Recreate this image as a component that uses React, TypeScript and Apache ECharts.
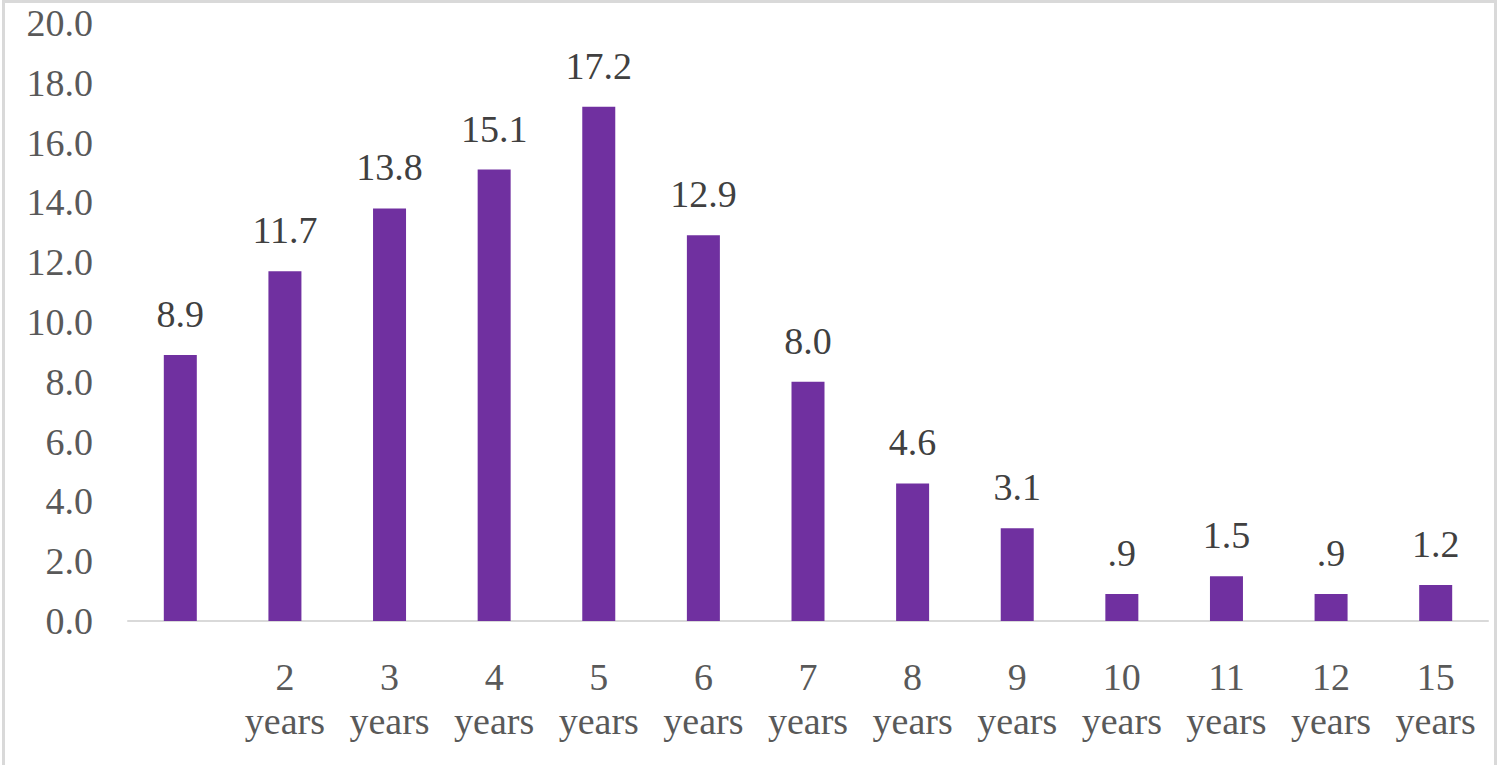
import React, { useEffect, useRef } from "react";
import * as echarts from "echarts";

const categories = ["", "2 years", "3 years", "4 years", "5 years", "6 years", "7 years", "8 years", "9 years", "10 years", "11 years", "12 years", "15 years"];
const values = [8.9, 11.7, 13.8, 15.1, 17.2, 12.9, 8.0, 4.6, 3.1, 0.9, 1.5, 0.9, 1.2];
const yTicks = { min: 0, max: 20, interval: 2 };

const FONT = "'Liberation Serif', 'Times New Roman', serif";

export default function App() {
  const ref = useRef<HTMLDivElement>(null);
  useEffect(() => {
    if (!ref.current) return;
    const chart = echarts.init(ref.current, undefined, { renderer: "svg" });
    chart.setOption({
      animation: false,
      backgroundColor: "#ffffff",
      grid: { left: 128, right: 12, top: 23, bottom: 144, containLabel: false },
      graphic: [
        {
          type: "rect",
          shape: { x: 3.5, y: 1.5, width: 1492, height: 800 },
          style: { fill: "none", stroke: "#d9d9d9", lineWidth: 3 },
          silent: true,
        },
      ],
      xAxis: {
        type: "category",
        data: categories,
        axisLine: { show: true, lineStyle: { color: "#d9d9d9", width: 2 } },
        axisTick: { show: false },
        axisLabel: {
          interval: 0,
          margin: 34,
          color: "#595959",
          fontFamily: FONT,
          fontSize: 38,
          lineHeight: 44,
          formatter: (v: string) => v.replace(" ", "\n"),
        },
      },
      yAxis: {
        type: "value",
        min: yTicks.min,
        max: yTicks.max,
        interval: yTicks.interval,
        splitLine: { show: false },
        axisLine: { show: false },
        axisTick: { show: false },
        axisLabel: {
          margin: 35,
          color: "#595959",
          fontFamily: FONT,
          fontSize: 38,
          formatter: (v: number) => v.toFixed(1),
        },
      },
      series: [
        {
          type: "bar",
          data: values,
          barWidth: 33,
          itemStyle: { color: "#7030A0" },
          label: {
            show: true,
            position: "top",
            distance: 22,
            color: "#404040",
            fontFamily: FONT,
            fontSize: 38,
            formatter: (p: any) => {
              const s = Number(p.value).toFixed(1);
              return s.startsWith("0.") ? s.slice(1) : s;
            },
          },
        },
      ],
    });
    return () => chart.dispose();
  }, []);
  return (
    <div
      ref={ref}
      style={{ position: "absolute", left: 0, top: 0, width: 1500, height: 765 }}
    />
  );
}
